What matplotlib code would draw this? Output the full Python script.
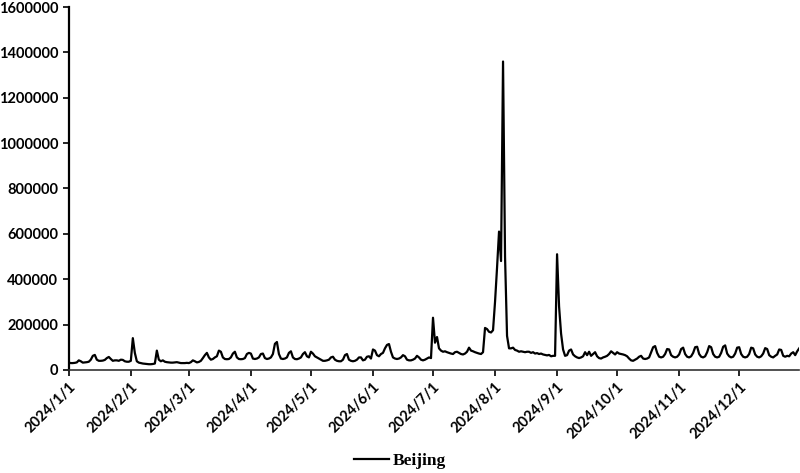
import numpy as np
import pandas as pd
from matplotlib import pyplot as plt

# daily values for Beijing, in thousands
jan = [32, 30, 30, 31, 33, 42, 38, 32, 33, 34, 36, 45, 62, 66, 45, 40, 40, 41, 44, 52,
       57, 48, 40, 42, 42, 40, 45, 44, 38, 36, 36]
feb = [40, 140, 75, 38, 32, 30, 28, 27, 26, 25, 25, 26, 28, 85, 45, 38, 42, 36, 34, 33,
       32, 32, 33, 34, 32, 30, 30, 30, 31]
mar = [30, 34, 42, 38, 33, 35, 40, 52, 65, 75, 55, 45, 48, 55, 60, 85, 80, 55, 48, 47,
       48, 55, 72, 80, 55, 48, 47, 48, 52, 70, 75]
apr = [72, 50, 48, 50, 55, 70, 72, 52, 48, 50, 55, 70, 115, 123, 70, 50, 48, 50, 55, 75,
       82, 55, 48, 47, 50, 55, 70, 78, 60, 55]
may = [80, 72, 60, 55, 50, 45, 40, 40, 42, 45, 55, 58, 45, 40, 38, 38, 45, 65, 70, 45,
       40, 38, 40, 45, 55, 55, 42, 45, 58, 60, 50]
jun = [90, 85, 65, 60, 70, 75, 95, 110, 114, 80, 55, 50, 48, 50, 55, 65, 60, 45, 42, 42,
       45, 50, 62, 55, 45, 42, 45, 50, 55, 52]
jul = [230, 120, 145, 95, 85, 80, 82, 78, 75, 72, 70, 78, 80, 75, 70, 68, 72, 80, 98, 85,
       82, 78, 75, 72, 70, 78, 185, 180, 168, 165, 175]
aug = [300, 450, 610, 480, 1360, 500, 150, 95, 95, 98, 88, 85, 80, 82, 80, 78, 80, 80, 75, 78,
       72, 74, 70, 72, 68, 66, 64, 66, 60, 62, 62]
sep = [510, 280, 160, 90, 62, 65, 85, 90, 68, 60, 55, 52, 55, 60, 78, 65, 80, 62, 70, 78,
       60, 52, 50, 55, 58, 62, 70, 82, 75, 68]
oct_ = [78, 72, 70, 68, 65, 60, 50, 42, 40, 45, 50, 58, 62, 50, 48, 50, 55, 78, 100, 105,
        75, 58, 55, 58, 70, 92, 90, 65, 58, 55, 58]
nov = [68, 92, 98, 70, 58, 55, 60, 75, 100, 102, 70, 58, 55, 60, 78, 105, 100, 70, 58, 55,
       58, 75, 102, 108, 72, 60, 55, 58, 72, 98]
dec = [100, 70, 58, 55, 58, 70, 98, 95, 68, 58, 55, 60, 72, 96, 92, 65, 58, 55, 62, 68,
       90, 88, 62, 58, 62, 60, 72, 78, 65, 82, 95]

beijing = np.array(jan + feb + mar + apr + may + jun + jul + aug + sep + oct_ + nov + dec) * 1000
dates = pd.date_range("2024-01-01", periods=len(beijing), freq="D")
month_starts = pd.date_range("2024-01-01", "2024-12-01", freq="MS")
month_labels = [f"{d.year}/{d.month}/1" for d in month_starts]
y_ticks = list(range(0, 1600001, 200000))

fig = plt.figure(figsize=(8, 4.73), dpi=100)
ax = fig.add_axes([0.086, 0.218, 0.913, 0.767])

ax.plot(dates, beijing, color="black", linewidth=1.6, label="Beijing")

ax.set_xlim(dates[0], dates[-1])
ax.set_ylim(0, 1600000)
ax.set_yticks(y_ticks)
ax.set_yticklabels([str(v) for v in y_ticks], fontfamily="Lato", fontweight="bold", fontsize=10.5)
ax.set_xticks(month_starts)
ax.set_xticklabels(month_labels, rotation=45, ha="right", rotation_mode="anchor",
                   fontfamily="Lato", fontweight="bold", fontsize=10.5)

for side in ["top", "right"]:
    ax.spines[side].set_visible(False)
ax.spines["left"].set_linewidth(1.6)
ax.spines["bottom"].set_linewidth(1.2)
ax.spines["bottom"].set_color("#333333")
ax.tick_params(axis="both", direction="out", length=4, width=1.2)

fig.legend(loc="lower center", bbox_to_anchor=(0.5, -0.025), frameon=False,
           prop={"family": "Liberation Serif", "weight": "bold", "size": 12.5},
           handlelength=2.0, handletextpad=0.2)

fig.savefig("out.png", dpi=100)
